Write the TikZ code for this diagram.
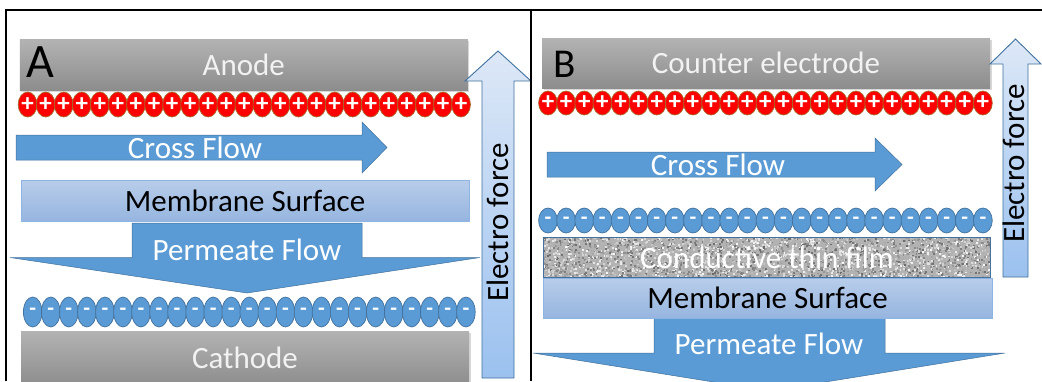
\documentclass[tikz,border=0pt]{standalone}
\usepackage{fontspec}
\setmainfont{Carlito}
\usetikzlibrary{shapes.geometric,shadows}
\definecolor{oblue}{HTML}{5B9BD5}
\definecolor{odark}{HTML}{41719C}
\definecolor{memtop}{HTML}{B8CDEA}
\definecolor{membot}{HTML}{96B5DF}
\definecolor{memline}{HTML}{8EB4E3}
\definecolor{eftop}{HTML}{DDE8F7}
\definecolor{efbot}{HTML}{9BC1EF}
\definecolor{graytop}{HTML}{B3B3B3}
\definecolor{graybot}{HTML}{8D8D8D}
\definecolor{ionred}{HTML}{FF0000}
\definecolor{ionline}{HTML}{A8682A}
\definecolor{filmgray}{HTML}{B2B2B2}
\begin{document}
\begin{tikzpicture}[x=1pt,y=-1pt,
  txt/.style={font=\fontsize{31}{36}\selectfont, inner sep=0pt},
  electrode/.style={rectangle, inner sep=0pt, top color=graytop, bottom color=graybot,
    text=white!95!black, font=\fontsize{31}{36}\selectfont,
    drop shadow={shadow xshift=1.5pt, shadow yshift=-1.5pt, opacity=0.3}},
  membrane/.style={rectangle, inner sep=0pt, top color=memtop, bottom color=membot,
    draw=memline, line width=0.8pt, font=\fontsize{31}{36}\selectfont},
  flowarrow/.style={fill=oblue, draw=odark, line width=0.5pt},
  forcearrow/.style={top color=eftop, bottom color=efbot, draw=odark, line width=0.9pt},
  ionplus/.style={ellipse, inner sep=0pt, fill=ionred, draw=ionline, line width=0.7pt,
    text=white, font=\bfseries\fontsize{25}{25}\selectfont},
  ionminus/.style={ellipse, inner sep=0pt, fill=oblue, draw=odark, line width=0.7pt,
    text=white, font=\bfseries\fontsize{22}{22}\selectfont},
  framestyle/.style={line width=1.4pt, black}
]
\useasboundingbox (0,0) rectangle (1042,381);
\fill[white] (0,0) rectangle (1042,381);

% ---------------- Panel A ----------------
\node[electrode, minimum width=448pt, minimum height=51pt] (anode) at (243.8,64.5) {Anode};
\node[font=\fontsize{48}{48}\selectfont, inner sep=0pt] (labA) at (40.5,62.5) {A};

\foreach \i in {0,...,24}
  \node[ionplus, minimum width=18.8pt, minimum height=25pt] (pa\i) at (27.6+\i*18.06,104.5) {+};

\path[flowarrow] (16,135) -- (362,135) -- (362,122) -- (387,147.5) -- (362,173) -- (362,160) -- (16,160) -- cycle;
\node[txt, text=white] (crossA) at (195,147.5) {Cross Flow};

\node[membrane, minimum width=448pt, minimum height=41pt] (memA) at (245,200.5) {Membrane Surface};

\path[flowarrow] (132,223) -- (362,223) -- (362,257.5) -- (480,257.5) -- (247,293) -- (10,257.5) -- (132,257.5) -- cycle;
\node[txt, text=white] (permA) at (247,250) {Permeate Flow};

\foreach \i in {0,...,24}
  \node[ionminus, minimum width=18.6pt, minimum height=30pt] (ma\i) at (32.7+\i*18.05,312) {-};

\node[electrode, minimum width=448pt, minimum height=54pt] (cathode) at (245,358) {Cathode};

\path[forcearrow] (482,378) -- (482,81) -- (465,81) -- (498,51) -- (531,81) -- (514,81) -- (514,378) -- cycle;
\node[txt, rotate=90] (efA) at (498,222.5) {Electro force};

% ---------------- Panel B ----------------
\node[electrode, minimum width=448pt, minimum height=50pt] (counter) at (766,63) {Counter electrode};
\node[font=\fontsize{41}{41}\selectfont, inner sep=0pt] (labB) at (565,64) {B};

\foreach \i in {0,...,24}
  \node[ionplus, minimum width=18.8pt, minimum height=24pt] (pb\i) at (548+\i*18.12,103) {+};

\path[flowarrow] (547,152) -- (875,152) -- (875,138) -- (902,164.5) -- (875,191) -- (875,177) -- (547,177) -- cycle;
\node[txt, text=white] (crossB) at (718,165) {Cross Flow};

\foreach \i in {0,...,24}
  \node[ionminus, minimum width=18.8pt, minimum height=25pt] (mb\i) at (548+\i*18.12,220.5) {-};

\begin{scope}
  \clip (543,237) rectangle (990,277);
  \fill[filmgray] (543,237) rectangle (990,277);
  \pgfmathsetseed{12}
  \foreach \k in {1,...,3200}{
    \pgfmathsetmacro{\rx}{541+449*rnd}
    \pgfmathsetmacro{\ry}{235+42*rnd}
    \pgfmathsetmacro{\g}{42+55*rnd}
    \fill[white!\g!black] (\rx,\ry) rectangle ++(1.9,1.9);
  }
\end{scope}
\node[draw=odark, line width=0.8pt, inner sep=0pt, minimum width=447pt, minimum height=40pt] (film) at (766.5,257) {};
\node[txt, text=white] (filmtxt) at (767,257.5) {Conductive thin film};

\path[flowarrow] (654,317) -- (885,317) -- (885,353) -- (1005,353) -- (769.5,391) -- (533,353) -- (654,353) -- cycle;
\node[txt, text=white] (permB) at (769,344) {Permeate Flow};

\node[membrane, minimum width=449pt, minimum height=40pt] (memB) at (767.5,298) {Membrane Surface};

\path[forcearrow] (1003,277) -- (1003,64) -- (990,64) -- (1015.5,39) -- (1041,64) -- (1028,64) -- (1028,277) -- cycle;
\node[txt, rotate=90] (efB) at (1014,163.5) {Electro force};

% ---------------- Frame ----------------
\draw[framestyle] (6,381) -- (6,10) -- (1042,10);
\draw[framestyle] (531,10) -- (531,381);
\end{tikzpicture}
\end{document}
